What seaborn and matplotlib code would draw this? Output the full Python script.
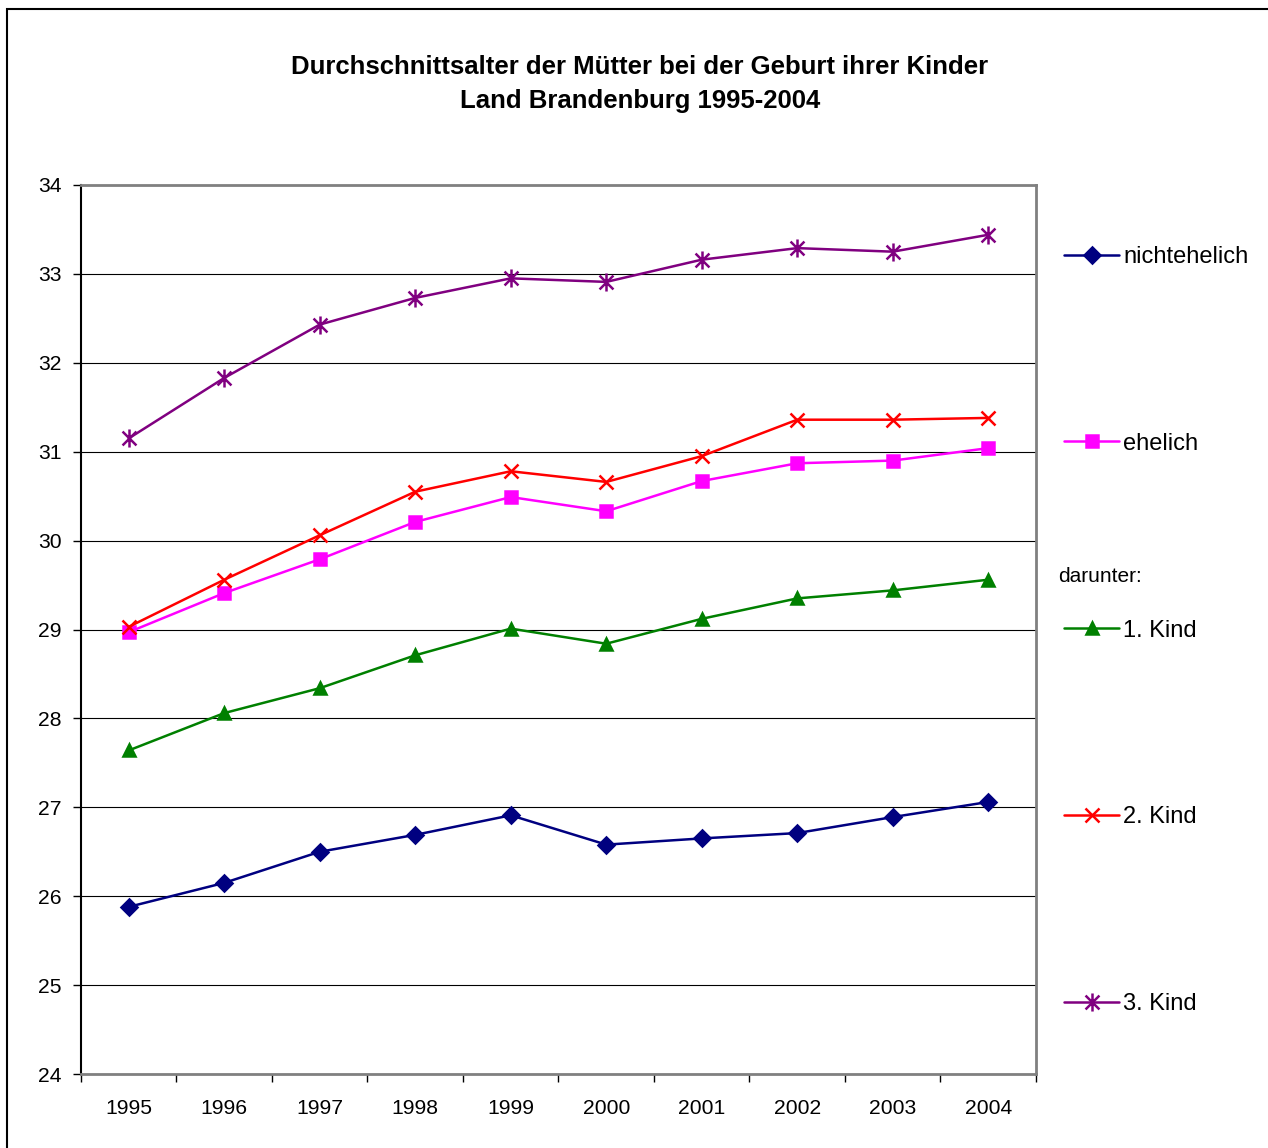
import matplotlib
matplotlib.use('Agg')
import matplotlib.pyplot as plt
from matplotlib.patches import Rectangle
from matplotlib.ticker import FixedLocator, NullFormatter
from matplotlib.path import Path
import seaborn as sns

# === Data ===
years = [1995, 1996, 1997, 1998, 1999, 2000, 2001, 2002, 2003, 2004]
nichtehelich = [25.88, 26.15, 26.50, 26.69, 26.91, 26.58, 26.65, 26.71, 26.89, 27.06]
ehelich = [28.97, 29.41, 29.79, 30.21, 30.49, 30.33, 30.67, 30.87, 30.90, 31.04]
kind1 = [27.64, 28.06, 28.34, 28.71, 29.01, 28.84, 29.12, 29.35, 29.44, 29.56]
kind2 = [29.03, 29.56, 30.06, 30.55, 30.78, 30.66, 30.95, 31.36, 31.36, 31.38]
kind3 = [31.15, 31.83, 32.43, 32.73, 32.95, 32.91, 33.16, 33.29, 33.25, 33.44]

labels = ['nichtehelich', 'ehelich', '1. Kind', '2. Kind', '3. Kind']
series = [nichtehelich, ehelich, kind1, kind2, kind3]
colors = ['#000080', '#FF00FF', '#008000', '#FF0000', '#800080']

# asterisk marker: x plus vertical stroke
star = Path([(-1, -1), (1, 1), (-1, 1), (1, -1), (0, -1.3), (0, 1.3)],
            [Path.MOVETO, Path.LINETO, Path.MOVETO, Path.LINETO, Path.MOVETO, Path.LINETO])
markers = ['D', 's', '^', 'x', star]
msizes = [8, 8.5, 9, 10, 13]

# === Style ===
sns.set_theme(style='white')
plt.rcParams['font.family'] = ['Liberation Sans', 'DejaVu Sans']
plt.rcParams['text.color'] = 'black'
plt.rcParams['xtick.color'] = 'black'
plt.rcParams['ytick.color'] = 'black'

fig = plt.figure(figsize=(12.68, 11.48), dpi=100)
ax = fig.add_axes([81 / 1268, 1 - 1074 / 1148, 955 / 1268, 889 / 1148])

for lab, vals, col, mk, ms in zip(labels, series, colors, markers, msizes):
    sns.lineplot(x=years, y=vals, ax=ax, color=col, marker=mk, markersize=ms,
                 markeredgecolor=col, markerfacecolor=col, markeredgewidth=1.8,
                 linewidth=1.8, label=lab)

# === Axes ===
ax.set_xlim(1994.5, 2004.5)
ax.set_ylim(24, 34)
ax.set_yticks(range(24, 35))
ax.set_xticks(years)
ax.set_xticklabels([str(y) for y in years])
ax.xaxis.set_minor_locator(FixedLocator([y + 0.5 for y in range(1994, 2005)]))
ax.xaxis.set_minor_formatter(NullFormatter())
ax.tick_params(axis='x', which='major', length=0, pad=18, labelsize=15.2, labelcolor='black')
ax.tick_params(axis='x', which='minor', length=6, width=1, direction='out', color='black', bottom=True)
ax.tick_params(axis='y', length=6, width=1, direction='out', color='black', left=True, pad=8,
               labelsize=15.2, labelcolor='black')
ax.grid(axis='y', color='black', linewidth=0.8)
ax.grid(axis='x', visible=False)
ax.set_axisbelow(True)

for side in ['top', 'right', 'bottom']:
    ax.spines[side].set_color('#808080')
    ax.spines[side].set_linewidth(2)
ax.spines['left'].set_color('black')
ax.spines['left'].set_linewidth(1.5)

# === Title ===
fig.text(640 / 1268, 1 - 84 / 1148,
         'Durchschnittsalter der Mütter bei der Geburt ihrer Kinder\nLand Brandenburg 1995-2004',
         ha='center', va='center', fontsize=18.5, fontweight='bold', linespacing=1.53,
         color='black')

# === Legend ===
ax.get_legend().remove()
handles, _ = ax.get_legend_handles_labels()
leg = fig.legend(handles, labels, loc='upper left', bbox_to_anchor=(1055 / 1268, 1 - 236.5 / 1148),
                 frameon=False, fontsize=17, handlelength=2.3, handletextpad=0.2,
                 labelspacing=6.98, borderaxespad=0, labelcolor='black')
fig.text(1058 / 1268, 1 - 576 / 1148, 'darunter:', ha='left', va='center', fontsize=15,
         color='black')

# figure border
fig.patches.append(Rectangle((7 / 1268, -0.01), 1.1, 1 - 9 / 1148 + 0.01,
                             transform=fig.transFigure, fill=False,
                             edgecolor='black', linewidth=1.5))

fig.savefig('out.png', dpi=100)
